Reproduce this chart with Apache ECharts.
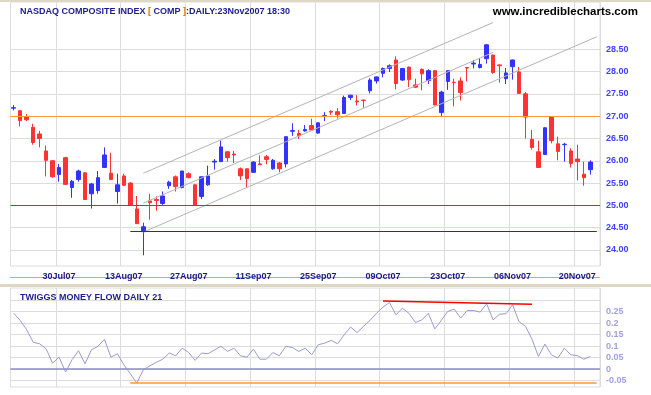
<!DOCTYPE html>
<html>
<head>
<meta charset="utf-8">
<style>html,body{margin:0;padding:0;background:#fff}#c{width:651px;height:395px}</style>
<script src="https://cdn.jsdelivr.net/npm/echarts@6/dist/echarts.min.js"></script>
</head>
<body>
<div id="c"></div>
<script>
const dates = ["19Jul07","20Jul07","23Jul07","24Jul07","25Jul07","26Jul07","27Jul07","30Jul07","31Jul07","01Aug07",
"02Aug07","03Aug07","06Aug07","07Aug07","08Aug07","09Aug07","10Aug07","13Aug07","14Aug07","15Aug07",
"16Aug07","17Aug07","20Aug07","21Aug07","22Aug07","23Aug07","24Aug07","27Aug07","28Aug07","29Aug07",
"30Aug07","31Aug07","04Sep07","05Sep07","06Sep07","07Sep07","10Sep07","11Sep07","12Sep07","13Sep07",
"14Sep07","17Sep07","18Sep07","19Sep07","20Sep07","21Sep07","24Sep07","25Sep07","26Sep07","27Sep07",
"28Sep07","01Oct07","02Oct07","03Oct07","04Oct07","05Oct07","08Oct07","09Oct07","10Oct07","11Oct07",
"12Oct07","15Oct07","16Oct07","17Oct07","18Oct07","19Oct07","22Oct07","23Oct07","24Oct07","25Oct07",
"26Oct07","29Oct07","30Oct07","31Oct07","01Nov07","02Nov07","05Nov07","06Nov07","07Nov07","08Nov07",
"09Nov07","12Nov07","13Nov07","14Nov07","15Nov07","16Nov07","19Nov07","20Nov07","21Nov07","23Nov07",""];
const tickLabels = ["30Jul07","13Aug07","27Aug07","11Sep07","25Sep07","09Oct07","23Oct07","06Nov07","20Nov07"];
const opens = [27.18,27.12,26.98,26.75,26.60,26.22,26.00,25.69,26.07,25.40,
25.58,25.73,25.26,25.33,25.85,25.72,25.31,25.66,25.50,24.92,
24.41,25.10,25.13,25.04,25.44,25.64,25.40,25.71,25.46,25.20,
25.46,25.97,25.98,26.20,26.15,25.82,25.82,25.74,25.93,26.09,
25.82,25.95,25.93,26.66,26.61,26.67,26.79,26.62,27.00,27.11,
27.10,27.06,27.42,27.34,27.36,27.57,27.79,27.96,28.07,28.26,
27.81,28.10,27.70,28.05,27.80,28.02,27.08,27.78,27.76,27.79,
28.09,28.17,28.09,28.29,28.37,28.15,27.84,28.11,27.99,27.50,
26.48,26.20,26.14,26.98,26.38,26.36,26.22,26.04,25.70,25.80];
const closes = [27.19,26.90,26.92,26.41,26.50,26.01,25.64,25.85,25.47,25.54,
25.77,25.13,25.48,25.62,26.13,25.58,25.46,25.45,25.00,24.59,
24.52,25.06,25.11,25.21,25.52,25.42,25.77,25.62,25.01,25.64,
25.66,25.99,26.31,26.07,26.13,25.66,25.60,25.97,25.91,26.03,
26.01,25.82,26.54,26.68,26.56,26.70,26.69,26.85,27.01,27.09,
27.03,27.42,27.47,27.32,27.35,27.81,27.88,28.07,28.13,27.73,
28.07,27.82,27.65,27.95,28.02,27.25,27.54,28.02,27.75,27.53,
28.08,28.19,28.16,28.60,27.98,28.13,27.97,28.26,27.51,26.98,
26.30,25.85,26.74,26.45,26.21,26.37,25.94,25.98,25.62,25.97];
const lows = [27.13,26.77,26.89,26.36,26.30,25.65,25.62,25.53,25.47,25.17,
25.53,25.13,24.93,25.26,25.85,25.57,25.04,25.43,25.00,24.59,
23.88,24.68,24.88,25.01,25.37,25.31,25.38,25.61,25.01,25.14,
25.44,25.80,25.98,25.98,25.95,25.57,25.39,25.74,25.91,25.92,
25.80,25.74,25.85,26.56,26.49,26.65,26.68,26.61,26.89,27.03,
26.95,27.05,27.36,27.24,27.19,27.51,27.73,27.87,27.99,27.60,
27.79,27.65,27.63,27.58,27.72,27.25,26.99,27.59,27.22,27.35,
27.78,28.07,28.07,28.18,27.95,27.75,27.72,27.82,27.51,26.50,
26.25,25.85,26.14,26.39,26.01,25.98,25.85,25.56,25.44,25.69];
const highs = [27.25,27.14,27.05,26.83,26.67,26.34,26.01,25.93,26.09,25.57,
25.80,25.74,25.50,25.77,26.30,26.18,25.71,25.71,25.52,25.21,
24.61,25.26,25.20,25.31,25.55,25.67,25.77,25.74,25.47,25.65,
25.89,26.04,26.45,26.22,26.22,25.85,25.83,25.99,26.12,26.13,
26.04,25.97,26.54,26.84,26.69,26.80,26.94,26.86,27.09,27.13,
27.18,27.46,27.48,27.47,27.37,27.85,27.89,28.09,28.16,28.34,
28.08,28.11,27.84,28.07,28.05,28.03,27.57,28.03,27.84,27.87,
28.10,28.26,28.30,28.62,28.38,28.16,28.08,28.27,28.10,27.54,
26.69,26.45,26.75,26.99,26.54,26.40,26.28,26.36,25.98,26.01];
const moneyFlow = [0.243,0.212,0.171,0.117,0.110,0.088,0.026,0.052,-0.013,0.041,
0.080,0.023,0.084,0.099,0.130,0.052,0.067,0.019,-0.020,-0.061,
-0.003,0.014,0.029,0.043,0.070,0.058,0.091,0.072,0.038,0.070,
0.067,0.084,0.099,0.077,0.091,0.058,0.052,0.087,0.043,0.043,
0.072,0.058,0.099,0.094,0.077,0.091,0.062,0.106,0.113,0.125,
0.110,0.149,0.183,0.159,0.186,0.212,0.243,0.270,0.290,0.236,
0.265,0.243,0.203,0.214,0.243,0.175,0.212,0.251,0.261,0.222,
0.255,0.255,0.248,0.284,0.214,0.239,0.241,0.280,0.207,0.186,
0.130,0.055,0.109,0.062,0.048,0.091,0.062,0.059,0.043,0.055];
const priceTicks = [24,24.5,25,25.5,26,26.5,27,27.5,28,28.5];
const mfGrid = [-0.05,0,0.05,0.1,0.15,0.2,0.25,0.3];
const mfTicks = [-0.05,0,0.05,0.1,0.15,0.2,0.25];
const hLines = {resistance: 27.00, support: 25.00, low: 24.41};
const channel = {start: 20, upper: [25.72, 74, 29.10], middle: [25.05, 74, 28.43], lower: [24.40, 90, 28.78]};
const mfLines = {zero: 0, low: -0.061, topFrom: [57, 0.296], topTo: [80, 0.282]};

const FONT = "'Liberation Sans', Arial, sans-serif";
const isTick = (idx, val) => tickLabels.indexOf(dates[idx]) >= 0;
const gridColor = '#dcdcdc';
const candles = opens.map((o, i) => [o, closes[i], lows[i], highs[i]]);
const lowIdx = 18;
const lastIdx = dates.length - 1;

const chart = echarts.init(document.getElementById('c'), null, {renderer: 'canvas'});
chart.setOption({
  animation: false,
  backgroundColor: '#fff',
  graphic: [
    {type: 'rect', left: 0, top: 0, silent: true, z: 100, shape: {width: 651, height: 2}, style: {fill: '#dcd8c6'}},
    {type: 'rect', left: 0, top: 284, silent: true, z: 100, shape: {width: 651, height: 3}, style: {fill: '#dcd8c6'}},
    {type: 'rect', left: 10, top: 277, silent: true, z: -1, shape: {width: 590, height: 1}, style: {fill: '#ffa040'}}
  ],
  title: [
    {left: 15, top: 2, text: '{a|NASDAQ COMPOSITE INDEX }{b|[}{a| COMP }{b|]}{a|:DAILY:23Nov2007 18:30}',
     textStyle: {rich: {a: {fontFamily: FONT, fontSize: 9, fontWeight: 'bold', color: '#1c1c8c'},
                        b: {fontFamily: FONT, fontSize: 9, fontWeight: 'bold', color: '#e07000'}}}},
    {right: 8, top: 1, text: 'www.incrediblecharts.com',
     textStyle: {fontFamily: FONT, fontSize: 11.5, fontWeight: 'bold', color: '#000'}},
    {left: 15, top: 288, text: 'TWIGGS MONEY FLOW DAILY 21',
     textStyle: {fontFamily: FONT, fontSize: 9, fontWeight: 'bold', color: '#1c1c8c'}}
  ],
  grid: [
    {left: 10.5, right: 51, top: 2, height: 264, show: true, borderColor: gridColor, borderWidth: 1},
    {left: 10.5, right: 51, top: 288, height: 99, show: true, borderColor: gridColor, borderWidth: 1}
  ],
  xAxis: [
    {type: 'category', gridIndex: 0, data: dates, boundaryGap: true,
     axisLine: {show: false}, axisTick: {show: false},
     axisLabel: {interval: isTick, fontFamily: FONT, fontSize: 9, fontWeight: 'bold', color: '#1a1a80', margin: 6},
     splitLine: {show: true, interval: isTick, lineStyle: {color: gridColor}}},
    {type: 'category', gridIndex: 1, data: dates, boundaryGap: true,
     axisLine: {show: false}, axisTick: {show: false}, axisLabel: {show: false},
     splitLine: {show: true, interval: isTick, lineStyle: {color: gridColor}}}
  ],
  yAxis: [
    {type: 'value', gridIndex: 0, position: 'right', min: 23.64, max: 29.56, scale: true,
     axisLine: {show: false},
     axisTick: {show: false, customValues: priceTicks},
     axisLabel: {customValues: priceTicks, formatter: v => v.toFixed(2), fontFamily: FONT, fontSize: 9, fontWeight: 'bold', color: '#4040ff', margin: 6},
     splitLine: {show: true, lineStyle: {color: gridColor}}},
    {type: 'value', gridIndex: 1, position: 'right', min: -0.078, max: 0.353,
     axisLine: {show: false},
     axisTick: {show: false, customValues: mfGrid},
     axisLabel: {customValues: mfTicks, fontFamily: FONT, fontSize: 9, fontWeight: 'bold', color: '#a0a0e0', margin: 6},
     splitLine: {show: true, lineStyle: {color: gridColor}}}
  ],
  series: [
    {type: 'candlestick', xAxisIndex: 0, yAxisIndex: 0, data: candles, barWidth: 4,
     itemStyle: {color: '#3333ff', color0: '#ff3333', borderColor: '#3333ff', borderColor0: '#ff3333', borderWidth: 1},
     markLine: {silent: true, symbol: ['none', 'none'], label: {show: false}, animation: false,
       data: [
         [{coord: [channel.start, channel.upper[0]]}, {coord: [channel.upper[1], channel.upper[2]]}],
         [{coord: [channel.start, channel.middle[0]]}, {coord: [channel.middle[1], channel.middle[2]]}],
         [{coord: [channel.start, channel.lower[0]]}, {coord: [channel.lower[1], channel.lower[2]]}],
         {yAxis: hLines.resistance, lineStyle: {color: '#ff9a2e', width: 1, type: 'solid'}},
         {yAxis: hLines.support, lineStyle: {color: '#1a8a1a', width: 1, type: 'solid'}},
         [{coord: [lowIdx, hLines.low], lineStyle: {color: '#b00000', width: 1, type: 'solid'}}, {coord: [lastIdx, hLines.low]}]
       ],
       lineStyle: {color: '#b4b4b4', width: 1, type: 'solid'}}},
    {type: 'line', xAxisIndex: 1, yAxisIndex: 1, data: moneyFlow, symbol: 'none',
     lineStyle: {color: '#9a9ad2', width: 1},
     markLine: {silent: true, symbol: ['none', 'none'], label: {show: false}, animation: false,
       data: [
         {yAxis: mfLines.zero, lineStyle: {color: '#8c8cc8', width: 1.5, type: 'solid'}},
         [{coord: [lowIdx, mfLines.low], lineStyle: {color: '#ff9a2e', width: 1.5, type: 'solid'}}, {coord: [lastIdx, mfLines.low]}],
         [{coord: mfLines.topFrom, lineStyle: {color: '#ff0000', width: 1.5, type: 'solid'}}, {coord: mfLines.topTo}]
       ]}}
  ]
});
</script>
</body>
</html>
